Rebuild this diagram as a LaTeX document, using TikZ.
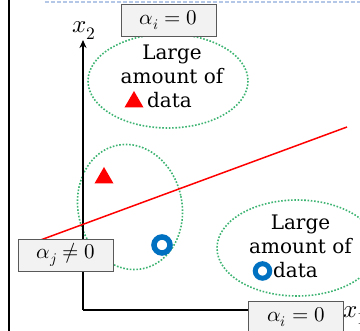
\documentclass[tikz,border=0pt]{standalone}
\usepackage{fontspec}
\usepackage{unicode-math}
\setmainfont{DejaVu Serif}
\usetikzlibrary{arrows.meta, positioning, shapes.geometric}

\definecolor{boxgray}{RGB}{242,242,242}
\definecolor{boxline}{RGB}{89,89,89}
\definecolor{dotgreen}{RGB}{60,179,113}
\definecolor{ringblue}{RGB}{0,112,192}
\definecolor{rulegray}{RGB}{180,199,231}

\begin{document}
\begin{tikzpicture}[
            x=1pt, y=-1pt,
            >={Stealth[length=8pt, width=7pt]},
            axis/.style={line width=2pt, ->},
            alphabox/.style={
                draw=boxline, fill=boxgray, line width=0.9pt,
                minimum width=95pt, minimum height=32pt,
                font=\fontsize{21}{24}\selectfont
            },
            cluster/.style={dotgreen, line width=1.6pt, dash pattern=on 1.6pt off 1.7pt},
            note/.style={anchor=base, inner sep=0pt, font=\fontsize{20}{24}\selectfont},
            tri/.style={regular polygon, regular polygon sides=3, fill=red, inner sep=0pt, minimum size=22pt},
            ring/.style={circle, draw=ringblue, inner sep=0pt}
        ]

            \useasboundingbox (0,0) rectangle (360,331);
            \clip (0,0) rectangle (360,331);

            % Frame rules
            \draw[line width=2pt] (9,0) -- (9,331);
            \draw[rulegray, line width=1.5pt, dash pattern=on 4pt off 2pt] (45,2) -- (360,2);

            % Clusters (dotted ellipses)
            \draw[cluster] (168,81) ellipse [x radius=80, y radius=47];
            \draw[cluster, shift={(130,207)}, rotate=12] (0,0) ellipse [x radius=52, y radius=63];
            \draw[cluster] (297,248) ellipse [x radius=80, y radius=48];

            % Axes
            \coordinate (origin) at (83,310);
            \coordinate (ytip) at (83,40);
            \coordinate (xtip) at (335,310);
            \draw[axis] (origin) -- (ytip);
            \draw[axis] (origin) -- (xtip);
            \node[anchor=base west, inner sep=0pt, font=\fontsize{25}{28}\selectfont] (xtwo) at (72,33) {$x_2$};
            \node[anchor=base west, inner sep=0pt, font=\fontsize{25}{28}\selectfont] (xone) at (343,318) {$x_1$};

            % Separating line
            \coordinate (sepA) at (40,240.2);
            \coordinate (sepB) at (347,127);
            \draw[red, line width=1.5pt] (sepA) -- (sepB);

            % Support vectors
            \node[tri] (tripoint) at (104,178) {};
            \node[ring, line width=5.5pt, minimum size=16pt] (ringpoint) at (162,245) {};

            % Large groups of data
            \node[note] (largeA) at (172,60) {Large};
            \node[note] (amountA) at (172,84) {amount of};
            \node[note, anchor=base west] (dataA) at (147,108) {data};
            \node[tri] (triA) at (134,102) {};

            \node[note] (largeB) at (300.5,230) {Large};
            \node[note] (amountB) at (300.5,254) {amount of};
            \node[note, anchor=base west] (dataB) at (273,278) {data};
            \node[ring, line width=5pt, minimum size=14.5pt] (ringB) at (262.5,271) {};

            % Multipliers
            \node[alphabox] (topbox) at (168.5,20) {$\alpha_i = 0$};
            \node[alphabox] (jbox) at (66,255) {$\alpha_j \neq 0$};
            \node[alphabox] (botbox) at (296,317) {$\alpha_i = 0$};

        \end{tikzpicture}
\end{document}
